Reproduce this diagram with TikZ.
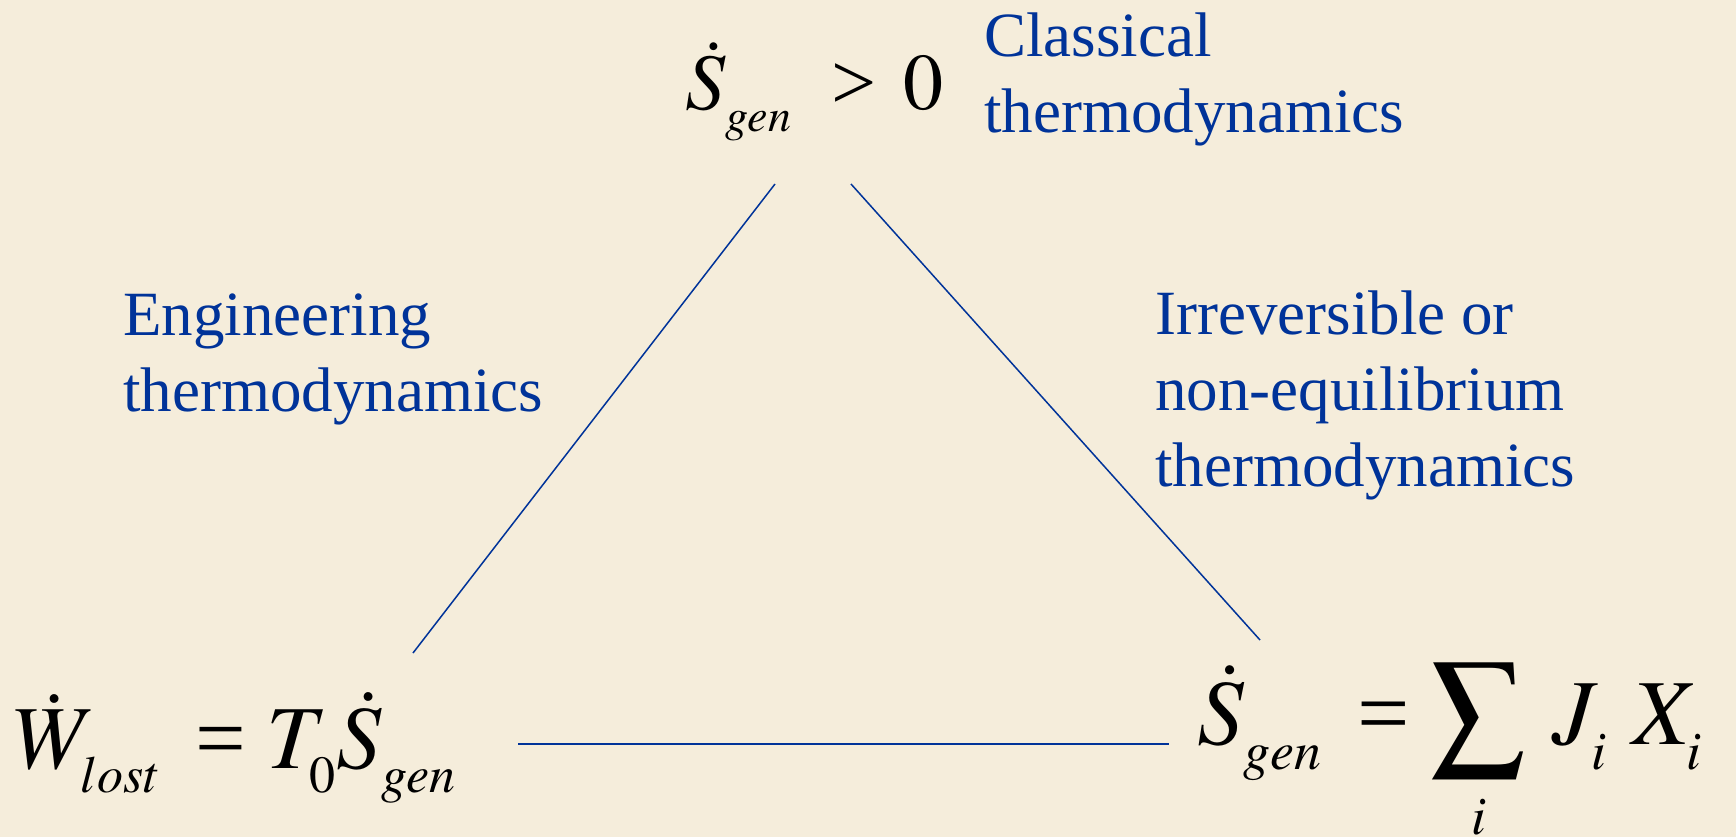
\documentclass[tikz,border=0pt]{standalone}
\usepackage{mathptmx}
\usepackage[no-math]{fontspec}
\setmainfont{Liberation Serif}
\usepackage{xcolor}

\definecolor{slideblue}{RGB}{0,51,153}
\definecolor{parchment}{RGB}{245,237,219}

\DeclareMathSizes{80}{80}{46}{36}
\DeclareMathSizes{90}{90}{52}{40}
\DeclareMathSizes{93}{93}{54}{42}

% subscripts sit lower, as in the slide
\newcommand{\lsub}[1]{_{\lower.12em\hbox{$\scriptstyle #1$}}}
% Times relations instead of the wide CM ones
\newcommand{\teq}{\mathrel{\textrm{=}}}
\newcommand{\tgt}{\mathrel{\textrm{>}}}

\tikzset{
  branch/.style={text=slideblue, anchor=base west, inner sep=0pt, align=left,
    font=\fontsize{63}{76}\selectfont},
  formula/.style={anchor=base west, inner sep=0pt},
  side/.style={draw=slideblue, line width=1.5pt}
}

\begin{document}
\begin{tikzpicture}[x=1pt, y=-1pt]
  % Slide background
  \useasboundingbox (0,0) rectangle (1736,837);
  \fill[parchment] (0,0) rectangle (1736,837);

  % The three corner formulas
  \node[formula, font=\fontsize{80}{90}\selectfont] (gen) at (685,110)
    {$\dot{S}\lsub{gen}\mkern5mu \tgt\mkern2mu 0$};
  \node[formula, font=\fontsize{90}{100}\selectfont] (lost) at (14,768)
    {$\dot{W}\lsub{lost}\mkern3mu \teq T\lsub{0}\dot{S}\lsub{gen}$};
  \node[formula, font=\fontsize{93}{100}\selectfont] (flux) at (1197,744)
    {$\dot{S}\lsub{gen}\mkern3mu \teq \displaystyle\sum_i\mkern3mu J\lsub{i}\mkern5mu X\lsub{i}$};

  % Names of the three branches (placed by their last line)
  \node[branch] (classic) at (984,133) {Classical\\thermodynamics};
  \node[branch] (engin) at (123,411) {Engineering\\thermodynamics};
  \node[branch] (irrev) at (1155,486) {Irreversible or\\non-equilibrium\\thermodynamics};

  % Ends of the triangle sides
  \coordinate (lost-up) at (413,653);
  \coordinate (gen-left) at (775,184);
  \coordinate (gen-right) at (851,184);
  \coordinate (flux-up) at (1260,640);
  \coordinate (lost-right) at (518,744);
  \coordinate (flux-left) at (1169,744);

  % Triangle sides
  \draw[side] (lost-up) -- (gen-left);
  \draw[side] (gen-right) -- (flux-up);
  \draw[side] (lost-right) -- (flux-left);

\end{tikzpicture}
\end{document}
